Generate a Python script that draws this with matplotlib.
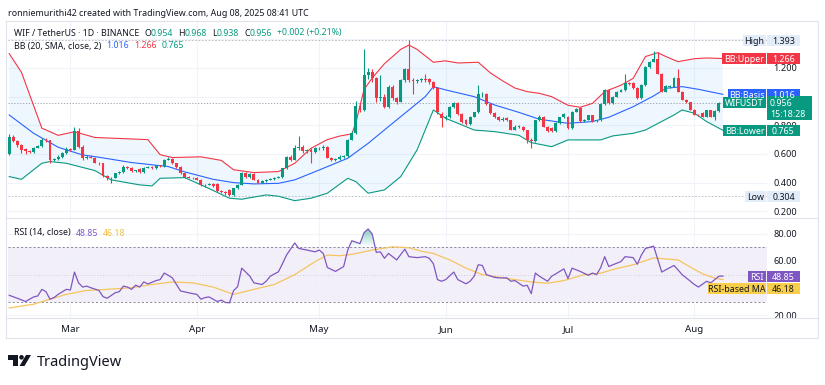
import numpy as np
import matplotlib.pyplot as plt
from matplotlib.patches import Rectangle, Circle, Polygon
from matplotlib.lines import Line2D
from matplotlib.path import Path
from matplotlib.colors import LinearSegmentedColormap
from matplotlib.transforms import IdentityTransform

plt.rcParams['font.family'] = ['Noto Sans', 'DejaVu Sans']

W, H = 825, 385
GREEN = '#089981'
RED = '#F23645'
BLUE = '#2962FF'
PURPLE = '#7E57C2'
YELLOW = '#F9CF4A'
INK = '#131722'

# daily candles, day 0 = 14 Feb 2025 ... day 175 = 8 Aug 2025
opens = [0.60, 0.72, 0.69, 0.66, 0.635, 0.62, 0.615, 0.645, 0.655, 0.70,
         0.695, 0.56, 0.565, 0.58, 0.605, 0.635, 0.63, 0.76, 0.65, 0.57,
         0.58, 0.575, 0.54, 0.535, 0.445, 0.43, 0.435, 0.465, 0.475, 0.51,
         0.505, 0.48, 0.495, 0.475, 0.505, 0.51, 0.50, 0.52, 0.515, 0.56,
         0.565, 0.535, 0.51, 0.465, 0.44, 0.435, 0.435, 0.42, 0.38, 0.385,
         0.39, 0.39, 0.34, 0.335, 0.35, 0.315, 0.36, 0.385, 0.47, 0.44,
         0.46, 0.42, 0.40, 0.41, 0.42, 0.425, 0.435, 0.44, 0.50, 0.58,
         0.56, 0.64, 0.65, 0.62, 0.625, 0.615, 0.64, 0.64, 0.65, 0.575,
         0.56, 0.565, 0.58, 0.585, 0.70, 0.745, 0.935, 0.91, 1.15, 1.17,
         1.13, 0.99, 1.00, 0.93, 1.07, 0.99, 0.965, 1.115, 1.195, 1.115,
         1.11, 1.115, 1.12, 1.12, 1.10, 1.06, 0.88, 0.85, 0.855, 0.93,
         0.955, 0.88, 0.84, 0.81, 0.86, 0.89, 1.015, 1.02, 0.95, 0.885,
         0.86, 0.84, 0.85, 0.835, 0.77, 0.79, 0.79, 0.765, 0.70, 0.69,
         0.835, 0.86, 0.79, 0.78, 0.76, 0.815, 0.855, 0.86, 0.78, 0.895,
         0.92, 0.83, 0.84, 0.87, 0.83, 0.835, 0.95, 1.045, 0.955, 1.00,
         1.035, 1.045, 1.095, 1.095, 1.06, 0.99, 1.08, 1.21, 1.245, 1.265,
         1.16, 1.035, 1.07, 1.07, 1.13, 1.035, 0.98, 0.96, 0.91, 0.875,
         0.885, 0.86, 0.905, 0.86, 0.90, 0.954]
closes = [0.72, 0.69, 0.66, 0.63, 0.62, 0.615, 0.645, 0.655, 0.70, 0.695,
          0.56, 0.565, 0.58, 0.605, 0.635, 0.63, 0.76, 0.65, 0.57, 0.58,
          0.575, 0.54, 0.535, 0.445, 0.43, 0.435, 0.465, 0.475, 0.51, 0.505,
          0.48, 0.485, 0.475, 0.505, 0.51, 0.50, 0.52, 0.515, 0.56, 0.565,
          0.535, 0.51, 0.465, 0.44, 0.435, 0.43, 0.42, 0.38, 0.385, 0.39,
          0.375, 0.34, 0.335, 0.33, 0.315, 0.36, 0.385, 0.47, 0.44, 0.46,
          0.42, 0.40, 0.41, 0.42, 0.425, 0.435, 0.44, 0.50, 0.58, 0.56,
          0.64, 0.65, 0.62, 0.625, 0.615, 0.64, 0.64, 0.65, 0.575, 0.56,
          0.565, 0.58, 0.585, 0.70, 0.745, 0.935, 0.91, 1.15, 1.17, 1.13,
          0.99, 1.00, 0.93, 1.07, 0.99, 0.965, 1.115, 1.195, 1.115, 1.11,
          1.115, 1.12, 1.115, 1.10, 1.06, 0.895, 0.85, 0.855, 0.93, 0.955,
          0.88, 0.82, 0.81, 0.86, 0.89, 1.02, 1.02, 0.95, 0.885, 0.86,
          0.84, 0.845, 0.835, 0.77, 0.79, 0.79, 0.765, 0.70, 0.69, 0.835,
          0.86, 0.79, 0.76, 0.76, 0.815, 0.855, 0.88, 0.78, 0.895, 0.915,
          0.83, 0.84, 0.87, 0.83, 0.835, 0.95, 1.045, 0.955, 1.00, 1.035,
          1.045, 1.095, 1.09, 1.06, 0.99, 1.08, 1.21, 1.245, 1.265, 1.16,
          1.035, 1.075, 1.07, 1.13, 1.035, 0.98, 0.96, 0.91, 0.875, 0.87,
          0.86, 0.905, 0.86, 0.90, 0.954, 0.956]
highs = [0.74, 0.73, 0.70, 0.67, 0.645, 0.63, 0.65, 0.665, 0.71, 0.71,
         0.70, 0.575, 0.59, 0.615, 0.65, 0.645, 0.79, 0.78, 0.66, 0.59,
         0.59, 0.58, 0.545, 0.54, 0.45, 0.44, 0.47, 0.48, 0.52, 0.515,
         0.51, 0.49, 0.50, 0.51, 0.515, 0.515, 0.525, 0.525, 0.565, 0.58,
         0.57, 0.54, 0.515, 0.47, 0.445, 0.44, 0.44, 0.425, 0.39, 0.395,
         0.395, 0.395, 0.345, 0.34, 0.355, 0.365, 0.39, 0.475, 0.475, 0.465,
         0.465, 0.425, 0.415, 0.425, 0.43, 0.44, 0.445, 0.505, 0.585, 0.59,
         0.66, 0.725, 0.66, 0.635, 0.64, 0.65, 0.65, 0.66, 0.655, 0.58,
         0.57, 0.59, 0.595, 0.705, 0.76, 0.97, 0.95, 1.33, 1.20, 1.19,
         1.14, 1.15, 1.02, 1.08, 1.08, 1.00, 1.12, 1.20, 1.393, 1.13,
         1.125, 1.13, 1.16, 1.13, 1.11, 1.07, 0.89, 0.87, 0.935, 0.96,
         0.96, 0.885, 0.845, 0.865, 0.895, 1.08, 1.03, 1.025, 0.955, 0.89,
         0.865, 0.855, 0.86, 0.84, 0.80, 0.80, 0.795, 0.77, 0.71, 0.84,
         0.87, 0.865, 0.795, 0.785, 0.82, 0.86, 0.885, 0.865, 0.90, 0.92,
         0.925, 0.845, 0.875, 0.875, 0.84, 0.955, 1.05, 1.05, 1.005, 1.04,
         1.05, 1.16, 1.10, 1.10, 1.065, 1.085, 1.215, 1.25, 1.32, 1.31,
         1.165, 1.08, 1.08, 1.135, 1.19, 1.04, 0.985, 0.965, 0.915, 0.88,
         0.89, 0.91, 0.91, 0.905, 0.96, 0.968]
lows = [0.59, 0.68, 0.65, 0.605, 0.60, 0.61, 0.61, 0.64, 0.65, 0.685,
        0.54, 0.55, 0.555, 0.575, 0.60, 0.62, 0.625, 0.64, 0.56, 0.565,
        0.57, 0.535, 0.525, 0.44, 0.42, 0.40, 0.43, 0.46, 0.47, 0.495,
        0.475, 0.475, 0.47, 0.47, 0.50, 0.495, 0.495, 0.51, 0.51, 0.555,
        0.53, 0.505, 0.46, 0.435, 0.43, 0.425, 0.415, 0.375, 0.37, 0.38,
        0.37, 0.335, 0.33, 0.315, 0.304, 0.31, 0.355, 0.38, 0.435, 0.435,
        0.415, 0.395, 0.395, 0.405, 0.415, 0.42, 0.43, 0.435, 0.495, 0.55,
        0.555, 0.63, 0.61, 0.61, 0.535, 0.605, 0.63, 0.63, 0.57, 0.55,
        0.55, 0.56, 0.575, 0.58, 0.695, 0.74, 0.89, 0.90, 1.12, 1.10,
        0.96, 0.97, 0.92, 0.92, 0.98, 0.95, 0.96, 1.10, 1.10, 1.02,
        1.095, 1.10, 1.10, 1.09, 1.05, 0.88, 0.79, 0.84, 0.85, 0.92,
        0.875, 0.815, 0.80, 0.805, 0.855, 0.885, 1.00, 0.945, 0.88, 0.85,
        0.83, 0.83, 0.83, 0.765, 0.765, 0.78, 0.76, 0.675, 0.64, 0.685,
        0.83, 0.785, 0.755, 0.755, 0.755, 0.81, 0.85, 0.775, 0.775, 0.89,
        0.825, 0.82, 0.835, 0.825, 0.825, 0.83, 0.945, 0.95, 0.95, 0.995,
        1.03, 1.04, 1.08, 1.055, 0.985, 0.985, 1.075, 1.20, 1.24, 1.155,
        1.03, 1.03, 1.06, 1.065, 1.03, 0.975, 0.955, 0.905, 0.87, 0.865,
        0.855, 0.855, 0.855, 0.84, 0.895, 0.938]

# Bollinger bands (20, SMA, 2)
upper_days = [0, 3, 8, 12, 16, 21, 34, 37, 40, 47, 52, 55, 60, 66, 70, 74, 78,
              81, 84, 85, 87, 89, 92, 96, 98, 100, 104, 107, 110, 115, 118,
              121, 124, 127, 130, 133, 137, 140, 143, 146, 150, 153, 156, 159,
              161, 164, 168, 171, 175]
upper_vals = [1.30, 1.17, 0.78, 0.73, 0.755, 0.715, 0.70, 0.595, 0.575, 0.58,
              0.555, 0.49, 0.47, 0.477, 0.535, 0.64, 0.70, 0.725, 0.74, 0.82,
              1.05, 1.13, 1.23, 1.33, 1.36, 1.33, 1.24, 1.25, 1.235, 1.24,
              1.165, 1.11, 1.06, 1.035, 1.023, 1.0, 0.94, 0.926, 0.953, 1.035,
              1.08, 1.128, 1.28, 1.307, 1.28, 1.244, 1.265, 1.27, 1.266]
basis_days = [0, 6, 12, 18, 22, 30, 39, 43, 50, 55, 60, 66, 70, 76, 83, 88,
              93, 98, 102, 104, 107, 114, 119, 125, 130, 137, 143, 147, 153,
              158, 161, 165, 169, 175]
basis_vals = [0.872, 0.744, 0.647, 0.593, 0.577, 0.54, 0.512, 0.475, 0.423,
              0.40, 0.391, 0.395, 0.419, 0.488, 0.57, 0.674, 0.791, 0.907, 1.0,
              1.07, 1.047, 1.0, 0.942, 0.89, 0.842, 0.814, 0.826, 0.856, 0.93,
              1.005, 1.058, 1.07, 1.051, 1.016]
lower_days = [0, 3, 8, 10, 14, 21, 25, 32, 35, 37, 43, 48, 54, 57, 63, 66, 70,
              74, 78, 83, 85, 88, 92, 96, 100, 104, 107, 110, 114, 119, 125,
              128, 133, 137, 145, 148, 153, 156, 163, 165, 168, 171, 175]
lower_vals = [0.442, 0.423, 0.535, 0.547, 0.535, 0.484, 0.419, 0.384, 0.377,
              0.43, 0.435, 0.372, 0.291, 0.284, 0.314, 0.305, 0.274, 0.291,
              0.326, 0.43, 0.407, 0.326, 0.349, 0.442, 0.628, 0.907, 0.849,
              0.814, 0.767, 0.756, 0.73, 0.679, 0.651, 0.698, 0.698, 0.726,
              0.744, 0.767, 0.872, 0.907, 0.884, 0.826, 0.765]

# RSI (14) and its moving average
rsi_days = [0, 2, 4, 6, 7, 8, 9, 10, 11, 12, 14, 15, 16, 17, 18, 19, 20, 22,
            23, 24, 26, 27, 28, 29, 30, 31, 32, 33, 34, 36, 37, 38, 39, 40, 41,
            42, 44, 45, 46, 47, 48, 49, 51, 52, 53, 54, 55, 56, 57, 58, 59, 60,
            62, 63, 64, 65, 66, 67, 68, 70, 71, 73, 75, 76, 77, 78, 80, 82, 83,
            84, 86, 87, 88, 89, 90, 91, 92, 93, 95, 97, 98, 100, 102, 103, 104,
            105, 106, 107, 109, 110, 112, 113, 114, 115, 116, 117, 119, 120,
            122, 123, 124, 126, 127, 128, 129, 130, 132, 133, 135, 136, 137,
            138, 140, 142, 143, 144, 145, 146, 147, 148, 150, 151, 153, 154,
            155, 156, 158, 160, 161, 163, 165, 166, 168, 169, 171, 172, 174,
            175]
rsi_vals = [34.6, 32.4, 30.0, 33.4, 34.1, 39.0, 37.3, 31.7, 32.9, 35.3, 39.0,
            38.5, 51.8, 43.8, 40.7, 41.4, 40.2, 38.2, 33.6, 32.4, 36.5, 37.3,
            41.4, 40.7, 39.0, 42.1, 40.7, 44.5, 43.0, 45.5, 46.2, 51.1, 49.4,
            47.5, 42.6, 37.8, 36.5, 35.8, 35.3, 31.7, 32.9, 33.4, 30.0, 31.0,
            29.3, 29.0, 38.0, 41.0, 54.7, 51.8, 48.7, 43.8, 42.6, 45.0, 48.7,
            50.4, 52.0, 58.0, 64.4, 73.4, 69.3, 68.1, 66.8, 68.1, 65.6, 55.2,
            52.3, 55.9, 68.1, 75.0, 72.9, 81.0, 83.7, 80.0, 66.4, 66.8, 62.0,
            65.6, 60.8, 68.8, 63.2, 62.5, 63.2, 62.0, 58.0, 46.2, 45.0, 46.2,
            51.8, 46.2, 43.1, 45.0, 48.7, 57.2, 56.7, 49.9, 47.9, 47.5, 47.5,
            45.0, 45.5, 41.4, 42.0, 35.8, 51.1, 48.7, 45.0, 48.7, 52.3, 54.2,
            47.0, 54.7, 52.3, 49.4, 51.1, 49.9, 55.0, 63.2, 55.9, 57.2, 59.6,
            63.2, 62.5, 57.6, 64.4, 69.3, 71.0, 51.8, 53.5, 56.7, 49.9, 47.5,
            42.6, 40.7, 45.0, 43.8, 48.7, 48.85]
ma_days = [0, 6, 10, 14, 19, 24, 30, 35, 40, 45, 50, 55, 60, 65, 70, 75, 78,
           81, 84, 89, 94, 98, 101, 104, 108, 112, 116, 120, 124, 128, 132,
           136, 141, 145, 149, 153, 158, 161, 164, 167, 170, 173, 175]
ma_vals = [25.2, 28.0, 31.7, 35.3, 38.2, 39.0, 40.2, 42.6, 44.5, 43.8, 40.7,
           35.3, 39.0, 42.6, 49.9, 59.6, 64.4, 63.9, 64.9, 68.1, 70.5, 69.8,
           67.3, 65.6, 60.8, 54.7, 49.9, 48.0, 46.2, 44.5, 43.5, 45.5, 49.9,
           51.0, 54.5, 57.2, 62.3, 61.5, 60.8, 55.5, 50.5, 47.3, 46.18]

month_days = [15, 46, 76, 107, 137, 168]
month_labels = ['Mar', 'Apr', 'May', 'Jun', 'Jul', 'Aug']
price_ticks = [0.2, 0.4, 0.6, 0.8, 1.0, 1.2, 1.4]
price_labels = ['0.200', '0.400', '0.600', '0.800', '', '1.200', '']  # 1.000 / 1.400 sit under tags
rsi_ticks = [20, 40, 60, 80]
rsi_labels = ['20.00', '', '60.00', '80.00']  # 40.00 sits under the MA tag

fig = plt.figure(figsize=(W / 100, H / 100), dpi=100)
fig.patch.set_facecolor('white')
ident = IdentityTransform()


def rect(x0, y0, x1, y1):
    # pixel box measured from top-left -> figure fraction
    return [x0 / W, 1 - y1 / H, (x1 - x0) / W, (y1 - y0) / H]


ax = fig.add_axes(rect(8, 22, 767, 218))
ax2 = fig.add_axes(rect(8, 218, 767, 318), sharex=ax)

for a in (ax, ax2):
    for s in a.spines.values():
        s.set_visible(False)
    a.yaxis.tick_right()
    a.tick_params(length=0, labelsize=6.6, colors=INK, pad=4.5)
    a.set_xticks(month_days)
    a.grid(True, color='#F0F3FA', lw=0.8)
    a.set_axisbelow(True)
ax.tick_params(labelbottom=False)

# candles
days = np.arange(len(opens))
o, c, hi, lo = map(np.array, (opens, closes, highs, lows))
col = np.where(c >= o, GREEN, RED)
ax.vlines(days, lo, hi, colors=col, lw=0.8, zorder=3)
ax.bar(days, np.maximum(np.abs(c - o), 0.004), bottom=np.minimum(o, c),
       width=0.72, color=col, lw=0, zorder=4)

# bollinger bands
band = np.column_stack([np.r_[upper_days, lower_days[::-1]],
                        np.r_[upper_vals, lower_vals[::-1]]])
ax.add_patch(Polygon(band, closed=True, fc='#2196F3', alpha=0.07, ec='none', zorder=1))
ax.plot(upper_days, upper_vals, color=RED, lw=0.8, zorder=2)
ax.plot(basis_days, basis_vals, color=BLUE, lw=0.8, zorder=2)
ax.plot(lower_days, lower_vals, color=GREEN, lw=0.8, zorder=2)

ax.axhline(max(highs), color='#B2B5BE', lw=0.6, dashes=(2, 2), zorder=1)
ax.axhline(min(lows), color='#B2B5BE', lw=0.6, dashes=(2, 2), zorder=1)
ax.axhline(closes[-1], color='#9598A1', lw=0.6, dashes=(1.5, 2), zorder=1)

ax.set_yticks(price_ticks)
ax.set_yticklabels(price_labels)
ax.set_ylim(0.153, 1.521)
ax.set_xlim(-0.3, 185.8)

# RSI pane
rd = np.array(rsi_days, float)
rv = np.array(rsi_vals)
ax2.axhspan(30, 70, color=PURPLE, alpha=0.09, lw=0, zorder=0)
ax2.axhline(70, color='#787B86', lw=0.6, dashes=(2.5, 2.5), zorder=1)
ax2.axhline(30, color='#787B86', lw=0.6, dashes=(2.5, 2.5), zorder=1)
ax2.axhline(50, color='#787B86', lw=0.5, dashes=(1.5, 2.5), alpha=0.4, zorder=1)

ob = ax2.fill_between(rd, rv, 70, where=rv > 70, interpolate=True, color='none', lw=0)
cm_g = LinearSegmentedColormap.from_list('ob', [(0.03, 0.6, 0.5, 0.0), (0.03, 0.6, 0.5, 0.6)])
im = ax2.imshow(np.linspace(0, 1, 64).reshape(-1, 1), extent=(rd[0], rd[-1], 70, 86),
                origin='lower', aspect='auto', cmap=cm_g, zorder=1)
im.set_clip_path(Path.make_compound_path(*ob.get_paths()), ax2.transData)
os_ = ax2.fill_between(rd, rv, 30, where=rv < 30, interpolate=True, color='none', lw=0)
cm_r = LinearSegmentedColormap.from_list('os', [(0.95, 0.2, 0.27, 0.5), (0.95, 0.2, 0.27, 0.0)])
im2 = ax2.imshow(np.linspace(0, 1, 64).reshape(-1, 1), extent=(rd[0], rd[-1], 20, 30),
                 origin='lower', aspect='auto', cmap=cm_r, zorder=1)
im2.set_clip_path(Path.make_compound_path(*os_.get_paths()), ax2.transData)

ax2.plot(ma_days, ma_vals, color='#F5C45E', lw=0.9, zorder=2)
ax2.plot(rsi_days, rsi_vals, color=PURPLE, lw=0.9, zorder=3)

ax2.set_yticks(rsi_ticks)
ax2.set_yticklabels(rsi_labels)
ax2.set_ylim(17.78, 91.85)
ax2.set_xlim(-0.3, 185.8)
ax2.set_xticklabels(month_labels)
ax2.tick_params(axis='x', labelsize=7, pad=5)

# frame and separators
fig.add_artist(Rectangle((6, H - 338), 812, 317, transform=ident, fill=False,
                         ec='#E0E3EB', lw=0.8, zorder=5))
for yy in (218, 318):
    fig.add_artist(Line2D([6, 818], [H - yy, H - yy], transform=ident,
                          color='#E0E3EB', lw=0.8, zorder=5))


def tag(x0, x1, yc, text, fc, tc='white', h=11, fs=6.4):
    fig.add_artist(Rectangle((x0, yc - h / 2), x1 - x0, h, transform=ident,
                             fc=fc, ec='none', zorder=10))
    fig.text((x0 + x1) / 2, yc, text, transform=ident, color=tc, fontsize=fs,
             ha='center', va='center_baseline', zorder=11)


def yp(a, v):
    return a.transData.transform((0, v))[1]


LIGHT = '#E3EDFA'
tag(743, 766, yp(ax, max(highs)), 'High', LIGHT, INK)
tag(767, 800, yp(ax, max(highs)), f'{max(highs):.3f}', LIGHT, INK)
tag(722, 766, yp(ax, upper_vals[-1]), 'BB:Upper', RED)
tag(767, 800, yp(ax, upper_vals[-1]), f'{upper_vals[-1]:.3f}', RED)
tag(728, 766, yp(ax, basis_vals[-1]), 'BB:Basis', BLUE)
tag(767, 800, yp(ax, basis_vals[-1]), f'{basis_vals[-1]:.3f}', BLUE)
yl = yp(ax, closes[-1])
tag(723, 766, yl, 'WIFUSDT', GREEN)
fig.add_artist(Rectangle((767, yl - 17.5), 45, 24, transform=ident, fc=GREEN, ec='none', zorder=10))
fig.text(770, yl, f'{closes[-1]:.3f}', transform=ident, color='white', fontsize=6.4,
         ha='left', va='center_baseline', zorder=11)
fig.text(770, yl - 11, '15:18:28', transform=ident, color='white', fontsize=6.4,
         ha='left', va='center_baseline', zorder=11)
tag(723, 766, yp(ax, lower_vals[-1]), 'BB:Lower', GREEN)
tag(767, 800, yp(ax, lower_vals[-1]), f'{lower_vals[-1]:.3f}', GREEN)
tag(745, 766, yp(ax, min(lows)), 'Low', LIGHT, INK)
tag(767, 800, yp(ax, min(lows)), f'{min(lows):.3f}', LIGHT, INK)

yr = yp(ax2, rsi_vals[-1])
tag(748, 766, yr, 'RSI', PURPLE)
tag(767, 800, yr, f'{rsi_vals[-1]:.2f}', PURPLE)
ym = min(yp(ax2, ma_vals[-1]), yr - 12)
tag(708, 766, ym, 'RSI-based MA', YELLOW, INK)
tag(767, 800, ym, f'{ma_vals[-1]:.2f}', YELLOW, INK)

# header and legends
renderer = fig.canvas.get_renderer()


def seq(x, y, parts, fs=6.3):
    for s, color, gap in parts:
        t = fig.text(x, H - y, s, transform=ident, color=color, fontsize=fs,
                     ha='left', va='center_baseline', zorder=11)
        x = t.get_window_extent(renderer).x1 + gap


fig.text(8, H - 12, 'ronniemurithi42 created with TradingView.com, Aug 08, 2025 08:41 UTC',
         transform=ident, color=INK, fontsize=6.4, ha='left', va='center_baseline')
seq(14, 32, [('WIF / TetherUS · 1D · BINANCE', INK, 5), ('O', INK, 0), ('0.954', GREEN, 5),
             ('H', INK, 0), ('0.968', GREEN, 5), ('L', INK, 0), ('0.938', GREEN, 5),
             ('C', INK, 0), ('0.956', GREEN, 5), ('+0.002 (+0.21%)', GREEN, 0)])
seq(14, 45, [('BB (20, SMA, close, 2)', INK, 5), ('1.016', BLUE, 5),
             ('1.266', RED, 5), ('0.765', GREEN, 0)])
seq(14, 232, [('RSI (14, close)', INK, 5), ('48.85', PURPLE, 5), ('46.18', '#F2BD3E', 0)])

# TradingView logo
fig.add_artist(Polygon([(8, H - 355), (18, H - 355), (18, H - 366), (13, H - 366),
                        (13, H - 359.5), (8, H - 359.5)], transform=ident, fc=INK, ec='none'))
fig.add_artist(Circle((21.5, H - 357.3), 2.3, transform=ident, fc=INK, ec='none'))
fig.add_artist(Polygon([(19.5, H - 366), (24.5, H - 366), (31, H - 355), (26, H - 355)],
                       transform=ident, fc=INK, ec='none'))
fig.text(37, H - 361, 'TradingView', transform=ident, color=INK, fontsize=10.5,
         fontweight='bold', ha='left', va='center_baseline')

fig.savefig('out.png', dpi=100)
